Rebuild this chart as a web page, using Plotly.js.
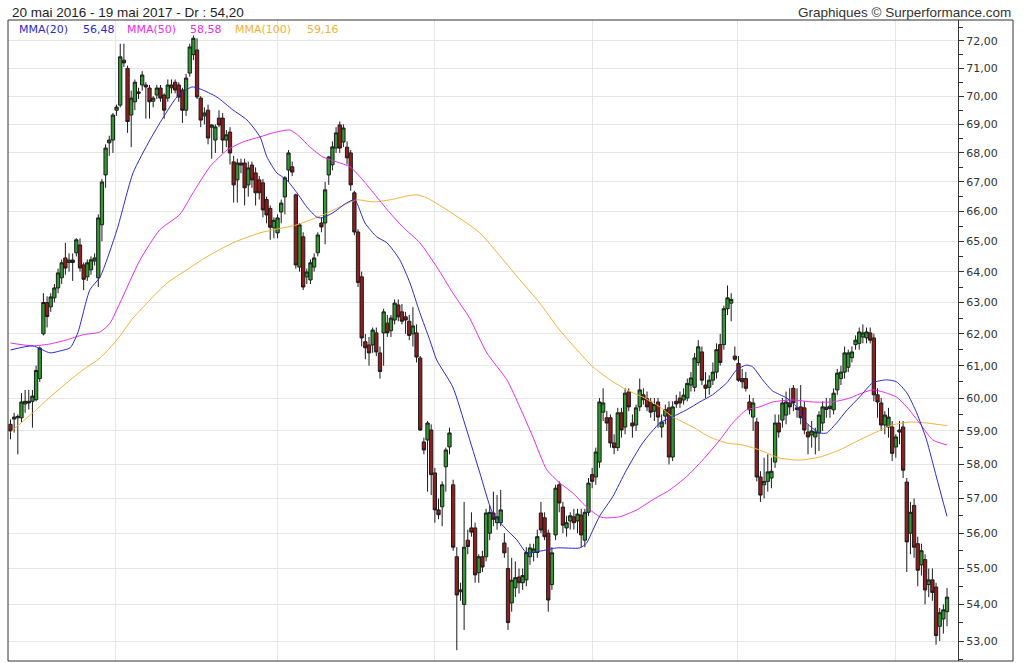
<!DOCTYPE html>
<html>
<head>
<meta charset="utf-8">
<script src="https://cdn.plot.ly/plotly-3.0.1.min.js"></script>
<style>html,body{margin:0;padding:0;background:#fff;}#chart{width:1024px;height:663px;}</style>
</head>
<body>
<div id="chart"></div>
<script>
// Daily candles, 20 mai 2016 - 19 mai 2017 (one entry per trading day)
const OPEN = [
59.2,59.36,59.4,59.4,59.82,59.9,59.9,59.95,60.6,62.0,63.0,62.86,63.15,63.47,63.8,64.45,64.3,64.38,64.62,64.88,
64.22,63.83,64.06,64.35,63.8,65.55,67.24,68.35,68.45,69.5,69.68,71.3,71.0,69.33,69.8,70.15,70.4,70.4,70.29,69.82,
70.04,70.29,70.04,69.93,70.3,70.5,70.4,70.22,69.5,70.83,71.5,71.67,69.93,69.3,69.5,68.9,68.45,69.22,69.22,68.45,
68.73,67.69,67.07,67.65,67.65,66.9,67.58,67.31,67.07,66.97,66.4,66.1,65.45,65.28,65.98,66.49,67.41,67.52,66.56,64.15,
65.15,63.83,63.73,64.15,64.62,65.61,65.61,67.24,67.59,68.17,68.98,68.38,68.2,68.0,66.63,65.31,63.83,61.75,61.65,61.65,
62.03,61.4,62.03,62.34,62.1,62.44,62.92,62.7,62.54,62.4,62.0,62.03,61.24,58.67,58.73,59.03,57.75,56.67,56.76,57.93,
58.52,57.4,55.33,54.35,54.0,55.8,56.15,56.15,54.88,55.33,55.33,56.0,56.58,56.3,56.3,55.72,55.0,54.04,54.46,54.76,
54.6,54.68,55.33,55.45,55.45,56.58,56.44,56.0,54.55,55.95,57.4,56.75,56.15,56.35,56.47,56.35,56.52,55.8,56.6,57.7,
57.63,58.07,59.57,59.4,59.4,58.64,58.5,59.55,59.12,60.19,59.24,59.18,59.73,60.1,59.98,59.88,59.6,59.88,59.12,59.45,
59.7,58.22,59.9,60.0,59.94,60.0,60.4,60.33,61.1,61.43,60.4,60.33,60.55,60.8,61.66,61.66,62.8,62.98,61.3,61.07,
60.6,60.6,59.88,59.42,59.27,57.63,57.4,57.5,57.6,58.07,59.24,59.33,59.48,59.85,60.3,59.7,59.73,59.7,58.97,58.88,
58.82,58.94,59.24,59.65,59.68,59.64,60.25,60.6,60.8,60.95,61.25,61.66,61.7,61.9,61.87,62.03,61.87,60.1,59.85,59.18,
59.12,59.12,58.52,58.97,59.12,57.48,56.0,56.8,55.7,55.1,55.25,54.55,54.68,54.48,53.4,53.6,53.8
];
const HIGH = [
59.35,59.55,59.5,60.15,60.25,60.25,60.25,61.0,61.6,63.3,63.2,63.3,63.6,64.1,64.4,64.95,64.6,64.6,65.1,65.1,
64.3,64.4,64.5,64.6,65.9,67.1,68.3,68.6,69.4,69.7,71.9,71.9,71.1,70.2,70.6,70.3,70.9,70.5,70.4,70.0,
70.4,70.4,70.1,70.6,70.6,70.6,70.5,70.3,70.8,71.9,72.2,72.1,70.0,69.6,69.7,69.0,69.0,69.5,69.4,68.8,
68.9,67.9,67.8,67.8,67.8,67.7,67.7,67.5,67.2,67.1,66.5,66.2,65.8,65.9,66.4,67.2,68.1,67.7,66.6,65.6,
65.3,64.1,64.4,64.6,65.3,65.8,67.0,67.9,68.4,68.9,69.1,69.0,68.4,68.1,66.7,65.4,64.0,62.0,61.9,62.2,
62.2,61.6,62.8,62.6,62.6,63.1,63.1,62.95,62.7,62.6,62.85,62.3,61.3,58.8,59.3,59.2,57.9,57.0,57.5,58.5,
59.1,57.55,55.6,54.6,56.9,56.1,56.6,56.3,55.4,55.5,56.7,56.8,57.2,57.1,57.25,56.0,55.6,55.3,55.2,55.0,
55.0,55.6,55.7,55.7,56.1,56.9,56.6,56.1,55.6,57.4,57.5,56.9,56.5,56.6,56.7,56.7,56.7,56.7,57.6,57.9,
58.5,60.0,60.3,59.6,59.5,58.9,59.7,59.7,60.3,60.3,59.5,59.8,60.6,60.3,60.2,60.0,60.0,60.0,59.5,59.8,
59.9,59.9,60.1,60.2,60.3,60.6,60.8,61.4,61.8,61.6,60.8,60.7,61.1,61.7,62.0,62.9,63.55,63.3,61.6,61.3,
60.9,60.8,60.1,60.0,59.4,57.8,58.2,58.3,58.2,59.5,59.5,60.0,60.2,60.3,60.4,60.3,60.4,59.9,59.2,59.3,
59.1,59.6,59.9,60.0,60.0,60.3,60.9,61.0,61.6,61.5,61.6,61.95,62.2,62.3,62.2,62.2,62.0,60.3,60.0,59.6,
59.7,59.3,58.9,59.3,59.3,57.6,56.9,57.0,55.9,55.7,55.4,55.0,55.0,54.6,53.9,54.0,54.45
];
const LOW = [
58.75,58.95,58.3,59.25,59.55,59.65,59.1,59.9,60.5,61.95,62.2,62.7,63.0,63.3,63.6,63.9,64.0,63.7,64.5,64.0,
63.4,63.7,63.9,64.2,63.5,65.0,66.8,67.9,68.0,69.3,69.6,71.05,68.7,68.2,69.5,69.9,70.2,69.2,69.2,69.6,
69.9,69.8,69.2,69.8,70.1,70.1,69.8,69.05,69.3,70.7,71.3,69.9,68.9,69.0,68.3,67.8,68.0,68.9,68.0,68.2,
67.6,66.3,66.3,67.3,66.2,66.5,66.8,66.2,66.4,65.8,65.6,65.05,65.1,65.1,65.6,65.9,67.0,67.2,64.1,64.0,
63.4,63.6,63.6,64.0,64.5,65.3,64.9,66.9,67.4,68.0,68.0,68.2,67.6,66.7,65.2,63.5,61.6,61.2,61.0,61.4,
61.3,60.6,61.0,61.9,61.9,62.3,62.4,62.3,62.0,61.8,61.6,61.1,59.0,58.3,57.2,57.1,56.3,56.4,56.2,57.2,
58.3,55.5,52.75,54.1,53.3,55.4,55.9,54.6,54.6,54.9,55.2,55.8,56.2,56.1,56.2,55.3,53.3,53.8,54.2,54.3,
54.4,54.5,55.1,55.2,55.3,56.0,55.8,53.8,54.4,55.8,56.6,56.0,55.9,56.1,56.1,56.0,55.6,55.6,56.5,57.3,
57.4,57.9,59.3,59.0,58.5,58.3,58.4,58.8,58.9,59.6,58.8,59.0,59.6,59.8,59.6,59.4,59.3,59.1,58.8,59.2,
58.0,58.1,59.7,59.7,59.8,59.9,60.2,60.2,61.0,60.4,60.0,60.1,60.4,60.6,61.0,61.5,62.6,62.4,61.15,60.5,
60.3,60.2,59.5,59.0,57.5,56.9,57.0,57.2,57.3,57.9,58.8,59.1,59.2,59.5,59.6,59.4,59.2,58.9,58.3,58.5,
58.3,58.4,59.0,59.4,59.4,59.5,60.1,60.4,60.6,60.8,61.1,61.5,61.5,61.7,61.7,61.7,59.9,59.4,59.0,58.9,
58.8,58.1,58.2,58.6,57.6,54.9,55.4,55.3,54.5,54.8,54.0,54.2,54.1,52.9,53.0,53.2,53.4
];
const CLOSE = [
59.0,59.42,59.44,59.88,59.9,59.85,60.06,60.85,61.55,63.0,62.55,63.18,63.47,63.96,64.29,64.12,64.38,64.3,65.05,64.12,
63.75,64.29,64.39,64.45,65.78,67.0,68.17,68.45,69.33,69.61,71.42,71.2,69.1,69.93,70.5,70.1,70.76,70.33,69.8,69.93,
70.29,69.93,69.5,70.4,70.4,70.22,69.97,69.5,70.65,71.78,72.1,69.97,69.15,69.4,68.52,68.98,68.91,68.98,68.45,68.63,
68.0,66.9,67.65,67.58,66.8,67.48,67.07,66.63,66.63,66.05,65.88,65.47,65.7,65.78,66.28,67.14,68.0,67.34,64.22,65.55,
63.5,63.99,64.29,64.45,65.21,65.48,66.73,67.86,68.21,68.7,68.17,68.87,67.83,66.9,65.31,63.65,61.87,61.56,61.4,62.12,
61.43,60.82,62.7,62.03,62.5,62.98,62.54,62.4,62.44,61.95,62.25,61.27,59.03,58.43,59.24,57.7,56.67,56.53,57.4,58.43,
58.94,55.6,54.26,54.4,55.6,55.62,56.03,54.82,55.33,55.04,56.58,56.6,56.4,56.47,56.67,55.44,53.5,54.67,54.74,54.6,
54.8,55.45,55.58,55.55,55.9,56.09,55.9,54.12,55.44,57.3,56.87,56.23,56.3,56.5,56.3,56.55,55.95,56.6,57.45,57.5,
58.37,59.88,59.85,59.24,58.64,58.5,59.55,59.03,60.15,59.73,59.15,59.7,60.25,59.95,59.73,59.57,59.8,59.42,59.27,59.64,
58.22,59.73,59.82,59.85,60.09,60.45,60.62,61.24,61.59,60.55,60.3,60.55,60.8,61.5,61.1,62.8,63.15,63.1,61.2,60.55,
60.5,60.3,59.64,59.85,57.63,57.1,57.5,57.78,57.8,59.24,58.97,59.85,59.88,59.73,59.85,59.65,59.4,59.03,58.82,59.0,
58.97,59.48,59.73,59.72,59.75,60.15,60.77,60.8,61.4,61.4,61.43,61.8,62.06,62.03,62.06,61.8,60.1,59.88,59.18,59.48,
59.42,58.33,58.82,59.03,57.83,55.75,56.6,55.6,54.95,55.5,54.4,54.68,54.33,53.15,53.77,53.85,54.2
];

// Moving averages: day position and value
const MA20_DAY = [0,6.1,10.8,13.5,16.3,18.4,21.7,24.5,29.1,33.5,38.1,41.7,45.5,49.6,51.8,56.4,60.8,64.6,68.2,70.1,72.8,75.5,78.3,81,83.7,85.1,88.1,91.9,94.1,96.9,100.1,102.9,106.4,109.2,111.9,114.6,116.5,120.9,124.7,128.3,131.8,135.7,138.4,141.1,143.9,149.3,155.6,157.5,159.2,161.1,164.6,168.4,172.8,177.5,181,184.8,188.4,191.9,195.8,198.5,201.2,202.9,205.6,208.3,212.2,214.9,217.6,221.2,223.1,225.8,228.7,232.1,235.7,239.5,242.2,245,247.7,250.4,253.1,256];
const MA20 = [61.49,61.62,61.4,61.46,61.56,62.03,63.41,63.83,65.38,67.31,68.45,69.23,69.97,70.33,70.26,69.97,69.51,69.16,68.56,67.86,67.31,67.07,66.63,66.15,65.81,65.78,65.95,66.29,66.39,65.61,65.15,64.95,64.39,63.63,62.67,61.81,61.18,60.34,59.03,57.75,56.58,56.09,55.81,55.44,55.47,55.58,55.58,55.72,56.09,56.5,57.05,57.84,58.64,59.24,59.43,59.64,59.88,60.1,60.47,60.87,61.02,60.96,60.56,60.22,60.0,59.73,59.24,58.94,58.94,59.24,59.64,60.03,60.47,60.56,60.5,60.16,59.55,58.73,57.63,56.48];

const MA50_DAY = [0,6.1,10.8,15.4,19.8,24.5,27.2,29.9,35.4,40.8,46.3,49.9,54.5,59.2,63.5,68.2,71.7,76.4,79.1,81.8,85.4,89.2,92.8,96.3,100.1,103.7,107.2,111.9,116.5,120.9,125.5,130.2,135.7,139.2,142.8,146.6,150.1,153.7,157.5,161.1,163,166.5,171.2,175.5,180.2,184.8,189.2,193.9,197.4,201.2,204.8,208.3,213.8,219.3,224.7,229.4,232.9,235.7,238.4,242.2,245,248.5,252.1,256];
const MA50 = [61.71,61.62,61.68,61.81,61.97,62.06,62.34,62.98,64.38,65.38,65.9,66.63,67.52,68.1,68.38,68.56,68.7,68.8,68.56,68.21,67.86,67.69,67.52,67.07,66.49,65.95,65.48,64.95,64.16,63.31,62.5,61.4,60.56,59.73,58.82,57.84,57.46,57.16,56.75,56.47,56.44,56.47,56.67,56.96,57.25,57.64,58.13,58.73,59.24,59.64,59.73,59.88,59.94,59.88,59.88,60.0,60.16,60.25,60.19,60.03,59.73,59.24,58.73,58.58];

const MA100_DAY = [0,6.1,10.8,15.4,19.8,24.5,29.1,33.5,38.1,42.8,48.2,53.7,60.8,68.2,71.7,78.3,85.4,90,94.7,99,103.7,108.3,111.1,113.8,119.3,124.7,128.3,139.2,144.7,150.1,155.6,159.2,163.9,168.4,172.8,177.5,181,186.5,191.1,195.8,200.1,204.8,210.2,215.7,221.2,226.6,232.1,236.7,241.1,245.8,250.4,256];
const MA100 = [58.97,59.55,60.03,60.47,60.87,61.24,61.81,62.5,63.08,63.63,64.06,64.49,64.95,65.28,65.38,65.55,65.88,66.15,66.39,66.32,66.39,66.52,66.56,66.46,66.05,65.61,65.28,63.74,62.98,62.12,61.4,60.96,60.56,60.25,60.03,59.73,59.43,59.12,58.82,58.64,58.58,58.43,58.19,58.13,58.22,58.43,58.73,58.97,59.18,59.27,59.24,59.16];

// Axis labels and header texts
const Y_TICKS = [53,54,55,56,57,58,59,60,61,62,63,64,65,66,67,68,69,70,71,72];
const Y_MINOR = [52.5,53.5,54.5,55.5,56.5,57.5,58.5,59.5,60.5,61.5,62.5,63.5,64.5,65.5,66.5,67.5,68.5,69.5,70.5,71.5,72.5];
const HEADER_LEFT = '20 mai 2016 - 19 mai 2017 - Dr : 54,20';
const HEADER_RIGHT = 'Graphiques © Surperformance.com';
const MA_NAMES = ['MMA(20)','MMA(50)','MMA(100)'];
const MA_LAST = ['56,48','58,58','59,16'];

const BLUE = '#2a2ad6', MAGENTA = '#e82ce8', ORANGE = '#f2b138';

const maLine = (x, y, color) => ({type: 'scatter', mode: 'lines', x: x, y: y,
  line: {color: color, width: 1, shape: 'spline', smoothing: 0.6}, hoverinfo: 'skip'});

const traces = [
  {
    type: 'candlestick',
    open: OPEN, high: HIGH, low: LOW, close: CLOSE,
    increasing: {line: {color: '#1c1c1c', width: 1}, fillcolor: '#2f9a2f'},
    decreasing: {line: {color: '#1c1c1c', width: 1}, fillcolor: '#951c1c'},
    whiskerwidth: 0,
    hoverinfo: 'skip'
  },
  maLine(MA100_DAY, MA100, ORANGE),
  maLine(MA50_DAY, MA50, MAGENTA),
  maLine(MA20_DAY, MA20, BLUE)
];

const W = 950, H = 641; // plot area size in px
function px(x) { return (x - 8) / W; }
function py(y) { return 1 - (y - 20) / H; }

const legendFont = {family: 'DejaVu Sans, Verdana, sans-serif', size: 11};
const annotations = [
  {text: HEADER_LEFT, x: px(10), y: py(12), xanchor: 'left', yanchor: 'middle', xref: 'paper', yref: 'paper', showarrow: false,
   font: {family: 'Liberation Sans, Arial, sans-serif', size: 13.5, color: '#1e1e1e'}},
  {text: HEADER_RIGHT, x: px(1013), y: py(12), xanchor: 'right', yanchor: 'middle', xref: 'paper', yref: 'paper', showarrow: false,
   font: {family: 'Liberation Sans, Arial, sans-serif', size: 13.5, color: '#333333'}},
  {text: MA_NAMES[0], x: px(17), y: py(30), color: BLUE},
  {text: MA_LAST[0], x: px(81), y: py(30), color: BLUE},
  {text: MA_NAMES[1], x: px(125), y: py(30), color: MAGENTA},
  {text: MA_LAST[1], x: px(188), y: py(30), color: MAGENTA},
  {text: MA_NAMES[2], x: px(233), y: py(30), color: ORANGE},
  {text: MA_LAST[2], x: px(305), y: py(30), color: ORANGE}
].map(a => a.color ? {text: a.text, x: a.x, y: a.y, xref: 'paper', yref: 'paper', xanchor: 'left', yanchor: 'middle',
   showarrow: false, font: Object.assign({}, legendFont, {color: a.color})} : a);

const layout = {
  width: 1024, height: 663,
  margin: {l: 8, r: 66, t: 20, b: 2, pad: 0},
  paper_bgcolor: '#ffffff', plot_bgcolor: '#ffffff',
  separators: ', ',
  showlegend: false,
  boxgap: 0.1,
  boxgroupgap: 0,
  hovermode: false,
  xaxis: {
    range: [-0.68, 259.0],
    tickmode: 'array', tickvals: [28.8, 73.1, 116, 159, 198.6, 241.8],
    showticklabels: false, ticks: '',
    showgrid: true, gridcolor: '#e6e6e6', gridwidth: 1,
    zeroline: false, showline: false,
    rangeslider: {visible: false}, fixedrange: true
  },
  yaxis: {
    type: 'log', range: [1.719841, 1.861988],
    side: 'right',
    tickmode: 'array', tickvals: Y_TICKS, tickformat: '.2f',
    showgrid: true, gridcolor: '#e6e6e6', gridwidth: 1,
    showline: true, linecolor: '#333333', linewidth: 1,
    ticks: 'outside', ticklen: 5, tickcolor: '#333333', tickwidth: 1,
    tickfont: {family: 'DejaVu Sans, Verdana, sans-serif', size: 11, color: '#333333'},
    minor: {tickmode: 'array', tickvals: Y_MINOR, ticks: 'outside', ticklen: 4, tickcolor: '#333333', showgrid: false},
    zeroline: false, fixedrange: true
  },
  shapes: [
    {type: 'rect', xref: 'paper', yref: 'paper', x0: 0, x1: px(1013), y0: 0, y1: 1,
     line: {color: '#333333', width: 1}, layer: 'above'}
  ],
  annotations: annotations
};

Plotly.newPlot('chart', traces, layout, {staticPlot: true, displayModeBar: false});
</script>
</body>
</html>
